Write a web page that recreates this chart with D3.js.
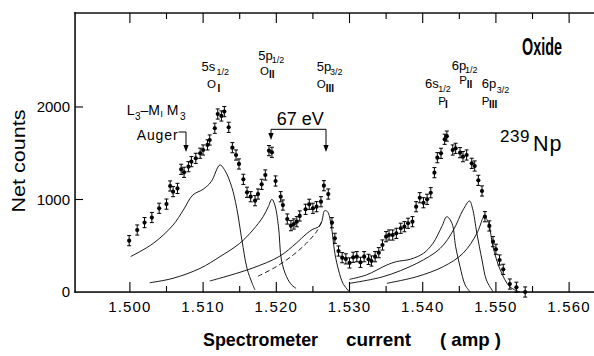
<!DOCTYPE html>
<html><head><meta charset="utf-8">
<script src="https://cdn.jsdelivr.net/npm/d3@7"></script>
<style>
body{margin:0;background:#fff}
svg{display:block}
text{font-family:"Liberation Sans",Arial,sans-serif;fill:#111}
</style></head><body>
<svg id="c" width="594" height="356" viewBox="0 0 594 356"></svg>
<script>
// ---- data ----
const xTickValues = [1.500,1.510,1.520,1.530,1.540,1.550,1.560];
const xMinorTicks = [1.505,1.515,1.525,1.535,1.545,1.555];
const yTickValues = [0,1000,2000];

const pointX = [1.4999,1.5010,1.5020,1.5030,1.5040,1.5050,1.5055,1.5059,1.5065,1.5070,
 1.5074,1.5080,1.5084,1.5090,1.5096,1.5100,1.5106,1.5109,1.5116,1.5120,
 1.5125,1.5129,1.5135,1.5140,1.5145,1.5149,1.5155,1.5160,1.5165,1.5171,
 1.5175,1.5180,1.5185,1.5190,1.5194,1.5199,1.5206,1.5209,1.5215,1.5220,
 1.5224,1.5228,1.5232,1.5240,1.5245,1.5250,1.5255,1.5261,1.5265,1.5271,
 1.5276,1.5280,1.5285,1.5290,1.5295,1.5300,1.5305,1.5310,1.5315,1.5320,
 1.5326,1.5330,1.5335,1.5340,1.5345,1.5350,1.5354,1.5359,1.5364,1.5370,
 1.5375,1.5380,1.5386,1.5391,1.5396,1.5401,1.5406,1.5411,1.5416,1.5420,
 1.5425,1.5430,1.5433,1.5441,1.5445,1.5451,1.5455,1.5460,1.5467,1.5471,
 1.5476,1.5481,1.5485,1.5491,1.5496,1.5500,1.5505,1.5510,1.5519,1.5528,1.5540];
const pointY = [555,670,750,805,905,950,1146,1085,1120,1326,
 1294,1355,1409,1445,1500,1535,1590,1643,1770,1924,
 1903,1950,1780,1560,1481,1384,1218,1078,1030,987,
 1059,1164,1265,1528,1510,1200,1030,940,789,717,
 735,760,822,894,948,905,922,976,1149,1059,
 749,580,443,371,358,314,375,382,321,382,
 353,335,382,425,508,598,616,616,634,689,
 706,743,760,922,1019,965,1002,1073,1290,1452,
 1499,1651,1685,1535,1553,1506,1463,1481,1391,1362,
 1207,1092,814,714,544,462,346,245,86,51,0];
const errorHalf = 55;

// fitted line components [current, counts]
const curveOI = [[1.5001,383],[1.5032,526],[1.5059,724],[1.5073,886],[1.5086,1049],[1.5100,1110],
 [1.5111,1192],[1.5123,1373],[1.5130,1311],[1.5139,1138],[1.5146,904],[1.5153,562],[1.5160,256],[1.5167,94],[1.5171,22]];
const curveOII = [[1.5027,100],[1.5059,148],[1.5096,256],[1.5123,382],[1.5150,526],[1.5168,670],[1.5182,814],
 [1.5189,922],[1.5194,1002],[1.5198,940],[1.5203,706],[1.5207,346],[1.5214,165],[1.5221,76],[1.5227,40]];
const curveOIII = [[1.5109,119],[1.5123,149],[1.5168,260],[1.5204,384],[1.5227,526],[1.5241,628],[1.5250,679],
 [1.5257,701],[1.5262,760],[1.5266,879],[1.5270,868],[1.5275,720],[1.5280,418],[1.5285,238],[1.5291,94],[1.5300,0]];
const curveOIIIdash = [[1.5175,170],[1.5200,274],[1.5223,400],[1.5241,526],[1.5255,652],[1.5262,760]];
const curvePI = [[1.5300,137],[1.5323,184],[1.5351,292],[1.5364,328],[1.5383,354],[1.5401,418],[1.5414,526],
 [1.5426,706],[1.5433,814],[1.5440,742],[1.5445,490],[1.5451,274],[1.5458,76],[1.5465,0]];
const curvePII = [[1.5300,94],[1.5346,166],[1.5392,310],[1.5424,472],[1.5442,670],[1.5455,886],[1.5464,984],
 [1.5468,905],[1.5474,634],[1.5481,346],[1.5487,130],[1.5496,5]];
const curvePIII = [[1.5351,94],[1.5392,166],[1.5428,274],[1.5455,418],[1.5474,634],[1.5482,796],[1.5484,822],
 [1.5490,742],[1.5496,490],[1.5506,238],[1.5519,57],[1.5533,0]];

// ---- scales ----
const svg = d3.select("#c");
const x = d3.scaleLinear().domain([1.4925,1.5634]).range([75,594]);
const y = d3.scaleLinear().domain([0,3016]).range([292,13]);
const ink = "#000";
const X0 = x.range()[0], X1 = x.range()[1], Y0 = y.range()[0], Y1 = y.range()[1];

// frame drawn as filled bars (left, top, bottom)
const frame = svg.append("g");
frame.append("rect").attr("x",X0-0.7).attr("y",Y1-0.7).attr("width",1.5).attr("height",Y0-Y1+1.4).attr("fill","#000");
frame.append("rect").attr("x",X0-0.7).attr("y",Y1-0.7).attr("width",X1-X0+0.7).attr("height",1.4).attr("fill","#000");
frame.append("rect").attr("x",X0-0.7).attr("y",Y0-0.7).attr("width",X1-X0+0.7).attr("height",1.5).attr("fill","#000");

// ticks as thin bars positioned by the scales
function vtick(px, yTop, len){ frame.append("rect").attr("x",px-0.55).attr("y",yTop).attr("width",1.1).attr("height",len).attr("fill","#000"); }
xTickValues.forEach(v=>{
  vtick(x(v), Y0-10, 10);
  vtick(x(v), Y1, 10);
  frame.append("text").attr("x",x(v)).attr("y",Y0+19.5).attr("text-anchor","middle")
    .attr("font-size",15).attr("letter-spacing","1.2px").style("fill","#000").text(d3.format(".3f")(v));
});
xMinorTicks.forEach(v=>{
  vtick(x(v), Y0-6, 6);
  vtick(x(v), Y1, 6);
});
yTickValues.forEach(v=>{
  if(v>0) frame.append("rect").attr("x",X0).attr("y",y(v)-0.55).attr("width",8).attr("height",1.1).attr("fill","#000");
  frame.append("text").attr("x",X0-5).attr("y",y(v)).attr("dy","0.36em").attr("text-anchor","end")
    .attr("font-size",15).style("fill","#000").text(d3.format("d")(v));
});

// fitted curves
const line = d3.line().x(d=>x(d[0])).y(d=>y(d[1])).curve(d3.curveCatmullRom.alpha(0.5));
[curveOI,curveOII,curveOIII,curvePI,curvePII,curvePIII].forEach(c=>{
  svg.append("path").attr("d",line(c)).attr("fill","none").attr("stroke",ink).attr("stroke-width",0.9);
});
svg.append("path").attr("d",line(curveOIIIdash)).attr("fill","none").attr("stroke",ink).attr("stroke-width",0.9).attr("stroke-dasharray","5,3");

// data points with error bars
const pts = pointX.map((v,i)=>[v,pointY[i]]);
const g = svg.append("g");
pts.forEach(d=>{
  const cx = x(d[0]), y1 = y(d[1]-errorHalf), y2 = y(d[1]+errorHalf);
  g.append("line").attr("x1",cx).attr("x2",cx).attr("y1",y1).attr("y2",y2).attr("stroke",ink).attr("stroke-width",1);
  g.append("line").attr("x1",cx-2).attr("x2",cx+2).attr("y1",y1).attr("y2",y1).attr("stroke",ink).attr("stroke-width",1);
  g.append("line").attr("x1",cx-2).attr("x2",cx+2).attr("y1",y2).attr("y2",y2).attr("stroke",ink).attr("stroke-width",1);
  g.append("circle").attr("cx",cx).attr("cy",y(d[1])).attr("r",2.1).attr("fill",ink);
});

// ---- text annotations ----
function t(xp,yp,str,size,opts={}){
  const e = svg.append("text").attr("x",xp).attr("y",yp).attr("font-size",size).text(str).style("fill","#000");
  if(opts.serif) e.attr("font-family","'Liberation Serif','DejaVu Serif',serif");
  if(opts.bold) e.attr("font-weight","bold");
  if(opts.ls) e.attr("letter-spacing",opts.ls+"px");
  if(opts.len) e.attr("textLength",opts.len).attr("lengthAdjust","spacingAndGlyphs");
  if(opts.anchor) e.attr("text-anchor",opts.anchor);
  return e;
}
function shell(o){
  t(o.x0,o.y0,o.main,13);
  t(o.x1,o.y1,o.sub,9);
  t(o.x2,o.y2,o.letter,11.5);
  t(o.x3,o.y3,o.roman,10,{serif:true,bold:true});
}
shell({x0:201.5,y0:70.5,main:"5s",x1:216.5,y1:75,sub:"1/2",x2:207,y2:88.3,letter:"O",x3:217.5,y3:91.5,roman:"I"});
shell({x0:258.3,y0:59.5,main:"5p",x1:271.7,y1:62.5,sub:"1/2",x2:260,y2:75,letter:"O",x3:269,y3:78.3,roman:"II"});
shell({x0:316.7,y0:71,main:"5p",x1:330,y1:75,sub:"3/2",x2:316.7,y2:88.3,letter:"O",x3:325.7,y3:91.7,roman:"III"});
shell({x0:425,y0:88.3,main:"6s",x1:438.3,y1:91.7,sub:"1/2",x2:438.3,y2:105,letter:"P",x3:445,y3:108.3,roman:"I"});
shell({x0:451.7,y0:69.5,main:"6p",x1:465,y1:73.3,sub:"1/2",x2:459.3,y2:84.3,letter:"P",x3:466.7,y3:88.3,roman:"II"});
shell({x0:481.7,y0:87.5,main:"6p",x1:496.7,y1:93.3,sub:"3/2",x2:481.7,y2:105,letter:"P",x3:489,y3:108.3,roman:"III"});

t(522,55,"Oxide",24,{bold:true,len:40});
t(500,141.7,"239",17,{ls:0.5});
t(533,150.5,"Np",21.5,{ls:1});
t(276.7,125,"67 eV",18);

// L3-M1M3 Auger
t(126.7,115,"L",14); t(135,120,"3",10); t(140.5,115,"–",14);
t(148.3,115,"M",14); t(160.3,117,"ı",10); t(166.7,115,"M",14); t(180,120,"3",10);
t(136.7,140,"Auger",14,{ls:0.9});

function arrowHead(xp,tip){
  svg.append("path").attr("d",`M${xp},${tip} L${xp-2.6},${tip-7} L${xp+2.6},${tip-7} Z`).attr("fill",ink);
}
svg.append("path").attr("d","M178.5,132 H186 V146").attr("fill","none").attr("stroke",ink).attr("stroke-width",1);
arrowHead(186,152);
svg.append("path").attr("d","M271,135 V129.3 H326 V146").attr("fill","none").attr("stroke",ink).attr("stroke-width",1);
arrowHead(271,140); arrowHead(326,152);

// axis titles
t(19,161,"Net counts",18,{len:103,anchor:"middle"}).attr("transform","rotate(-90,19,161)").attr("dy","0.35em");
t(203,346,"Spectrometer",19,{bold:true,len:115});
t(346,346,"current",19,{bold:true,len:65});
t(440,346,"( amp )",19,{bold:true,len:61});
</script>
</body></html>
